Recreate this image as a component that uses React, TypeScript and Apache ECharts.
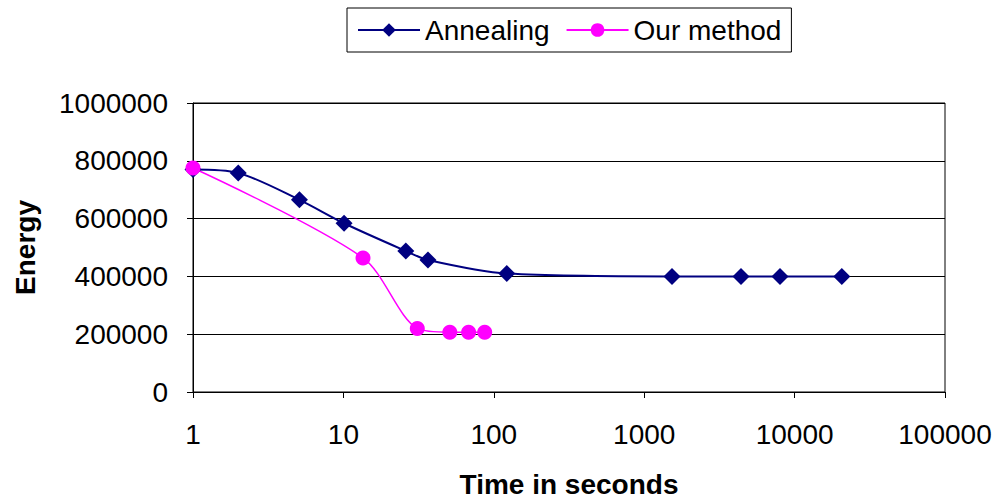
import React, { useEffect, useRef } from "react";
import * as echarts from "echarts";

const annealingTime = [1, 2, 5.1, 10.1, 26, 36.5, 122, 1530, 4400, 8000, 20600];
const annealingEnergy = [770000, 758000, 665000, 584000, 488000, 457000, 410000, 400000, 400000, 400000, 400000];
const ourTime = [1, 13.5, 31, 51, 68, 87];
const ourEnergy = [775000, 464000, 220000, 207000, 207000, 207000];
const yTicks = { min: 0, max: 1000000, interval: 200000 };
const xRange = { min: 1, max: 100000 };

const FONT = "Liberation Sans, Arial, sans-serif";
const FS = 28;

export default function App() {
  const ref = useRef<HTMLDivElement>(null);
  useEffect(() => {
    if (!ref.current) return;
    const chart = echarts.init(ref.current, null, { renderer: "svg" });
    chart.setOption({
      animation: false,
      backgroundColor: "#fff",
      textStyle: { fontFamily: FONT },
      legend: {
        left: 347,
        top: 8,
        padding: [8, 10, 8, 10],
        borderColor: "#000",
        borderWidth: 1,
        itemWidth: 62,
        itemHeight: 17,
        itemGap: 16,
        textStyle: { fontSize: FS, color: "#000", fontFamily: FONT },
        data: ["Annealing", "Our method"],
      },
      grid: { left: 193, right: 53, top: 103, bottom: 107, show: true, borderColor: "#000", borderWidth: 1 },
      xAxis: {
        type: "log",
        logBase: 10,
        min: xRange.min,
        max: xRange.max,
        name: "Time in seconds",
        nameLocation: "middle",
        nameGap: 78,
        nameTextStyle: { fontSize: FS, fontWeight: "bold", color: "#000", fontFamily: FONT },
        axisLine: { lineStyle: { color: "#000", width: 1 } },
        axisTick: { show: true, length: 6, lineStyle: { color: "#000" } },
        minorTick: { show: false },
        splitLine: { show: false },
        axisLabel: {
          fontSize: FS,
          color: "#000",
          margin: 28,
          fontFamily: FONT,
          formatter: (v: number) => String(Math.round(v)),
        },
      },
      yAxis: {
        type: "value",
        min: yTicks.min,
        max: yTicks.max,
        interval: yTicks.interval,
        name: "Energy",
        nameLocation: "middle",
        nameGap: 154,
        nameTextStyle: { fontSize: FS, fontWeight: "bold", color: "#000", fontFamily: FONT },
        axisLine: { show: true, lineStyle: { color: "#000", width: 1 } },
        axisTick: { show: true, length: 6, lineStyle: { color: "#000" } },
        splitLine: { show: true, lineStyle: { color: "#000", width: 1 } },
        axisLabel: {
          fontSize: FS,
          color: "#000",
          margin: 25,
          fontFamily: FONT,
          formatter: (v: number) => String(Math.round(v)),
        },
      },
      series: [
        {
          name: "Annealing",
          type: "line",
          smooth: 0.3,
          symbol: "diamond",
          symbolSize: 17,
          lineStyle: { color: "#000080", width: 2 },
          itemStyle: { color: "#000080" },
          data: annealingTime.map((t, i) => [t, annealingEnergy[i]]),
        },
        {
          name: "Our method",
          type: "line",
          smooth: 0.3,
          symbol: "circle",
          symbolSize: 15,
          lineStyle: { color: "#FF00FF", width: 1.5 },
          itemStyle: { color: "#FF00FF" },
          data: ourTime.map((t, i) => [t, ourEnergy[i]]),
        },
      ],
    });
    return () => chart.dispose();
  }, []);
  return (
    <div
      ref={ref}
      style={{ position: "fixed", left: 0, top: 0, width: 998, height: 503, background: "#fff" }}
    />
  );
}
